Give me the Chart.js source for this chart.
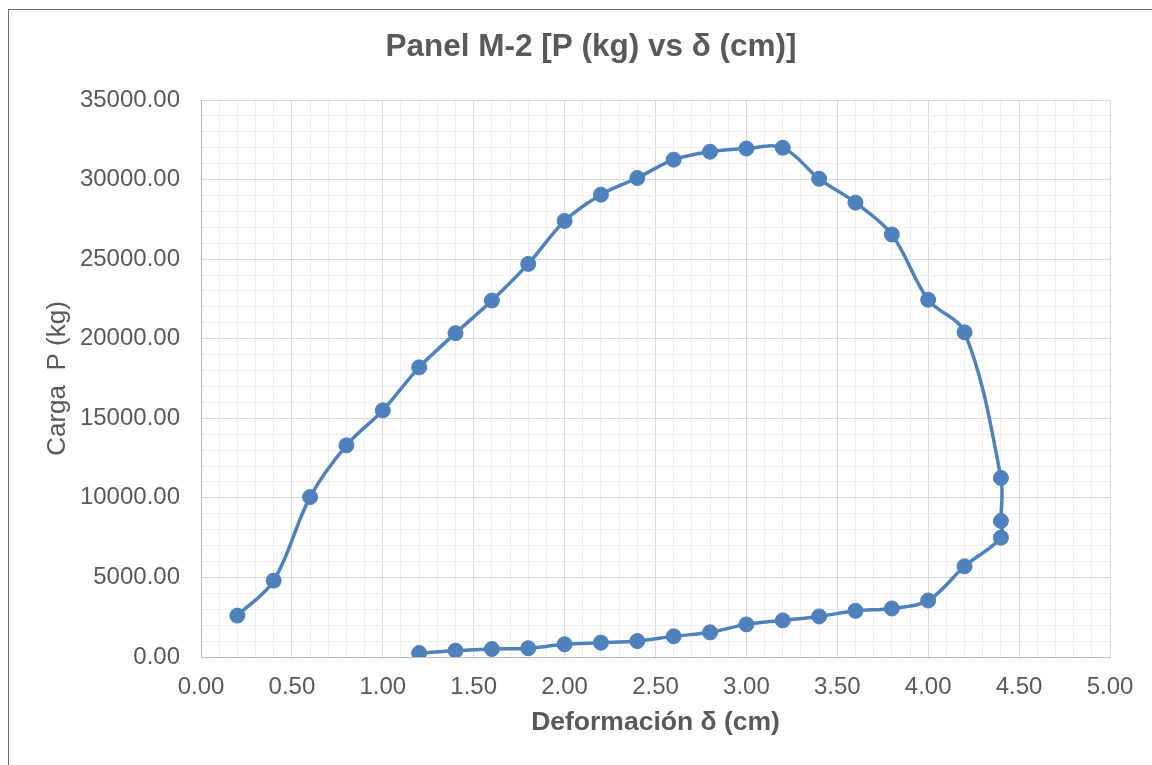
<!DOCTYPE html>
<html>
<head>
<meta charset="utf-8">
<script src="https://cdn.jsdelivr.net/npm/chart.js@4.4.1/dist/chart.umd.min.js"></script>
<style>
  html, body { margin: 0; padding: 0; background: #ffffff; }
  #wrap { position: relative; width: 1152px; height: 765px; }
</style>
</head>
<body>
<div id="wrap"><canvas id="c"></canvas></div>
<script>
// ---- Data ----
const deformacion = [0.2, 0.4, 0.6, 0.8, 1.0, 1.2, 1.4, 1.6, 1.8, 2.0, 2.2, 2.4, 2.6, 2.8, 3.0, 3.2,
                     3.4, 3.6, 3.8, 4.0, 4.2, 4.4, 4.4, 4.4, 4.2, 4.0, 3.8, 3.6, 3.4, 3.2, 3.0, 2.8,
                     2.6, 2.4, 2.2, 2.0, 1.8, 1.6, 1.4, 1.2];
const carga = [2600, 4800, 10050, 13300, 15500, 18200, 20350, 22400, 24700, 27400, 29050, 30100, 31250, 31750, 31950, 32000,
               30050, 28550, 26550, 22450, 20400, 11250, 8550, 7500, 5700, 3550, 3050, 2900, 2550, 2300, 2050, 1550,
               1300, 1000, 900, 800, 550, 500, 400, 250];

const xTickLabels = ['0.00', '0.50', '1.00', '1.50', '2.00', '2.50', '3.00', '3.50', '4.00', '4.50', '5.00'];
const yTickLabels = ['0.00', '5000.00', '10000.00', '15000.00', '20000.00', '25000.00', '30000.00', '35000.00'];

const chartTitle = 'Panel M-2 [P (kg) vs δ (cm)]';
const xTitle = 'Deformación δ (cm)';
const yTitle = 'Carga  P (kg)';

// ---- Build ----
const points = deformacion.map((x, i) => ({ x: x, y: carga[i] }));

const FONT = "'Liberation Sans', Arial, sans-serif";
const TXT = '#595959';
const MAJOR = '#d9d9d9';
const MINOR = '#efefef';
const BLUE = '#4f81bd';

const frame = {
  id: 'frame',
  beforeDraw(chart) {
    const ctx = chart.ctx;
    ctx.save();
    ctx.fillStyle = '#ffffff';
    ctx.fillRect(0, 0, chart.width, chart.height);
    ctx.strokeStyle = '#6e6e6e';
    ctx.lineWidth = 1;
    ctx.strokeRect(8.5, 9.5, 1300, 900);
    ctx.restore();
  }
};

new Chart(document.getElementById('c'), {
  type: 'scatter',
  data: {
    datasets: [{
      data: points,
      showLine: true,
      borderColor: BLUE,
      borderWidth: 3.5,
      backgroundColor: BLUE,
      pointBackgroundColor: BLUE,
      pointBorderColor: BLUE,
      pointBorderWidth: 1,
      pointRadius: 7.5,
      tension: 0.35
    }]
  },
  options: {
    responsive: true,
    maintainAspectRatio: false,
    animation: false,
    layout: { padding: { left: 72, right: 42, top: 0, bottom: 0 } },
    plugins: {
      legend: { display: false },
      tooltip: { enabled: false },
      title: {
        display: true,
        text: chartTitle,
        color: TXT,
        font: { family: FONT, size: 31.5, weight: 'bold', lineHeight: 1.2 },
        padding: { top: 28, bottom: 34.2 }
      }
    },
    scales: {
      x: {
        type: 'linear',
        min: 0,
        max: 5,
        afterFit(scale) { scale.height = 108; },
        ticks: {
          stepSize: 0.1,
          autoSkip: false,
          maxRotation: 0,
          padding: 16,
          color: TXT,
          font: { family: FONT, size: 24 },
          callback(v) {
            const k = Math.round(v * 10);
            return k % 5 === 0 ? xTickLabels[k / 5] : '';
          }
        },
        grid: {
          drawTicks: false,
          lineWidth: 1,
          color(ctx) {
            if (!ctx.tick) return MINOR;
            return Math.round(ctx.tick.value * 10) % 5 === 0 ? MAJOR : MINOR;
          }
        },
        border: { color: '#bfbfbf', width: 1 },
        title: {
          display: true,
          text: xTitle,
          color: TXT,
          font: { family: FONT, size: 26.5, weight: 'bold', lineHeight: 1.2 },
          padding: { top: 0, bottom: 26 }
        }
      },
      y: {
        type: 'linear',
        min: 0,
        max: 35000,
        afterFit(scale) { scale.width = 129; },
        ticks: {
          stepSize: 1000,
          autoSkip: false,
          padding: 21,
          color: TXT,
          font: { family: FONT, size: 24 },
          callback(v) {
            const k = Math.round(v / 1000);
            return k % 5 === 0 ? yTickLabels[k / 5] : '';
          }
        },
        grid: {
          drawTicks: false,
          lineWidth: 1,
          color(ctx) {
            if (!ctx.tick) return MINOR;
            return Math.round(ctx.tick.value / 1000) % 5 === 0 ? MAJOR : MINOR;
          }
        },
        border: { color: '#bfbfbf', width: 1 },
        title: {
          display: true,
          text: yTitle,
          color: TXT,
          font: { family: FONT, size: 26, weight: 'normal', lineHeight: 1.2 },
          padding: { top: -29.6, bottom: 0 }
        }
      }
    }
  },
  plugins: [frame]
});
</script>
</body>
</html>
